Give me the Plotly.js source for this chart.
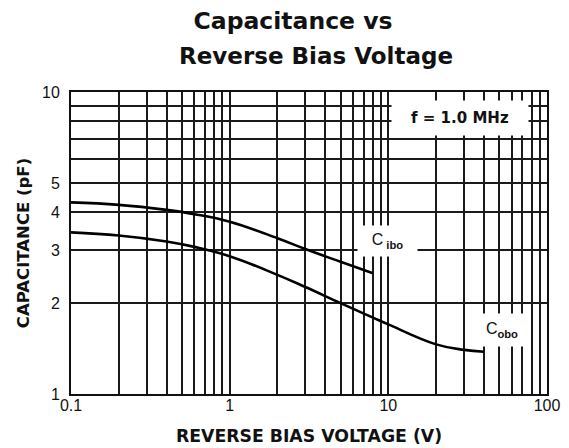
<!DOCTYPE html>
<html>
<head>
<meta charset="utf-8">
<script src="https://cdn.plot.ly/plotly-3.0.1.min.js"></script>
<style>html,body{margin:0;padding:0;background:#fff;}#chart{width:569px;height:448px;}</style>
</head>
<body>
<div id="chart"></div>
<script>
// Data
const ciboVoltage = [0.1, 0.2, 0.4, 0.6, 1.0, 2.0, 3.0, 5.0, 8.0];
const ciboCap     = [4.31, 4.23, 4.07, 3.94, 3.72, 3.28, 3.02, 2.74, 2.51];
const coboVoltage = [0.1, 0.2, 0.4, 0.6, 1.0, 2.0, 3.0, 5.0, 8.0, 10, 20, 30, 40];
const coboCap     = [3.43, 3.35, 3.20, 3.07, 2.86, 2.48, 2.26, 2.00, 1.79, 1.70, 1.46, 1.40, 1.38];

const xTickVals = [0.1,0.2,0.3,0.4,0.5,0.6,0.7,0.8,0.9,1,2,3,4,5,6,7,8,9,10,20,30,40,50,60,70,80,90,100];
const xTickLabels = {0.1:'0.1', 1:'1', 10:'10', 100:'100'};
const yTickVals = [1,2,3,4,5,6,7,8,9,10];
const yTickLabels = {1:'1', 2:'2', 3:'3', 4:'4', 5:'5', 10:'10'};

const titleLine1 = 'Capacitance vs';
const titleLine2 = 'Reverse Bias Voltage';
const freqNote = 'f = 1.0 MHz';

const FONT = 'Liberation Sans, Arial, Helvetica, sans-serif';
const WIDE = 'DejaVu Sans, Liberation Sans, Arial, sans-serif';
const INK = '#111';

const traces = [
  {x: ciboVoltage, y: ciboCap, mode: 'lines', name: 'Cibo',
   line: {color: '#000', width: 2.6, shape: 'spline', smoothing: 1.2}},
  {x: coboVoltage, y: coboCap, mode: 'lines', name: 'Cobo',
   line: {color: '#000', width: 2.6, shape: 'spline', smoothing: 1.2}}
];

const layout = {
  width: 569, height: 448,
  margin: {l: 71, r: 22, t: 92, b: 54},
  paper_bgcolor: '#fff', plot_bgcolor: '#fff',
  showlegend: false,
  font: {family: FONT, color: INK},
  title: {text: '<b>' + titleLine1 + '</b>', font: {family: WIDE, size: 23.5, color: INK},
          x: 0.515, xanchor: 'center', y: 1 - 13/448, yanchor: 'top', yref: 'container'},
  xaxis: {
    type: 'log', range: [-1, 2],
    tickmode: 'array', tickvals: xTickVals,
    ticktext: xTickVals.map(v => xTickLabels[v] || ''),
    ticks: '', showgrid: true, gridcolor: '#1a1a1a', gridwidth: 2,
    showline: true, linecolor: INK, linewidth: 2, mirror: true,
    zeroline: false, ticklabelstandoff: -4,
    tickfont: {family: FONT, size: 16, color: INK},
    title: {text: '<b>REVERSE BIAS VOLTAGE (V)</b>', font: {family: WIDE, size: 17.3, color: INK}, standoff: 17}
  },
  yaxis: {
    type: 'log', range: [0, 1],
    tickmode: 'array', tickvals: yTickVals,
    ticktext: yTickVals.map(v => yTickLabels[v] || ''),
    ticks: '', showgrid: true, gridcolor: '#1a1a1a', gridwidth: 2,
    showline: true, linecolor: INK, linewidth: 2, mirror: true,
    zeroline: false, ticklabelstandoff: 6,
    tickfont: {family: FONT, size: 16, color: INK},
    title: {text: '<b>CAPACITANCE (pF)</b>', font: {family: WIDE, size: 16.5, color: INK}, standoff: 8}
  },
  annotations: [
    {text: '<b>' + titleLine2 + '</b>', xref: 'paper', yref: 'paper', x: 0.515, y: (394 - 56) / 302,
     xanchor: 'center', yanchor: 'middle', showarrow: false,
     font: {family: WIDE, size: 23, color: INK}},
    {text: '<b>' + freqNote + '</b>', xref: 'x', yref: 'y', x: Math.log10(28.3), y: Math.log10(8.2),
     showarrow: false, bgcolor: '#fff', width: 134, height: 32,
     font: {family: WIDE, size: 15, color: INK}},
    {text: 'C<sub> <b>ibo</b></sub>', xref: 'x', yref: 'y', x: Math.log10(9.9), y: Math.log10(3.2),
     showarrow: false, bgcolor: '#fff', width: 57, height: 28,
     font: {family: FONT, size: 16, color: INK}},
    {text: 'C<sub><b>obo</b></sub>', xref: 'x', yref: 'y', x: Math.log10(52), y: Math.log10(1.63),
     showarrow: false, bgcolor: '#fff', width: 48, height: 30,
     font: {family: FONT, size: 16, color: INK}}
  ]
};

Plotly.newPlot('chart', traces, layout, {staticPlot: true, displayModeBar: false});
</script>
</body>
</html>
